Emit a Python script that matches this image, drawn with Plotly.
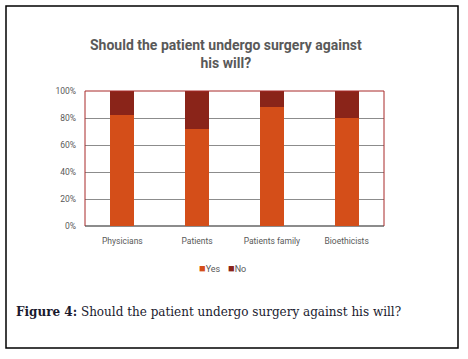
import plotly.graph_objects as go

categories = ["Physicians", "Patients", "Patients family", "Bioethicists"]
yes_vals = [82, 72, 88, 80]
no_vals = [18, 28, 12, 20]
y_ticks = [0, 20, 40, 60, 80, 100]
y_tick_labels = ["0%", "20%", "40%", "60%", "80%", "100%"]
series_names = ["Yes", "No"]
series_colors = ["#D44E19", "#8A2419"]

W, H = 468, 359
L, R, T, B = 85, 84, 91, 133
pw, ph = W - L - R, H - T - B

def px(x):
    return (x - L) / pw

def py(y):
    return (H - B - y) / ph

fig = go.Figure()
for name, vals, col in zip(series_names, [yes_vals, no_vals], series_colors):
    fig.add_trace(go.Bar(x=categories, y=vals, name=name, marker_color=col,
                         width=0.32, marker_line_width=0))

font_fam = "Roboto, sans-serif"
tick_font = dict(family=font_fam, size=8.5, color="#595959")

fig.update_layout(
    barmode="stack",
    width=W, height=H,
    margin=dict(l=L, r=R, t=T, b=B),
    paper_bgcolor="white", plot_bgcolor="white",
    showlegend=False,
    xaxis=dict(showgrid=False, showline=False, ticks="", tickfont=tick_font, ticklabelstandoff=8),
    yaxis=dict(range=[0, 100], tickvals=y_ticks, ticktext=y_tick_labels, tickfont=tick_font,
               showgrid=True, gridcolor="#8C8C8C", gridwidth=1, zeroline=True,
               zerolinecolor="#8C8C8C", showline=False, ticks="", ticklabelstandoff=8),
)

# title
fig.add_annotation(text="<b>Should the patient undergo surgery against<br>his will?</b>",
                   xref="paper", yref="paper", x=px(226), y=py(54), xanchor="center", yanchor="middle",
                   showarrow=False, align="center",
                   font=dict(family=font_fam, size=14, color="#595959"))

# legend (compact, Excel-like) - one entry per series
legend_x = [197, 226]
for n, c, lx in zip(series_names, series_colors, legend_x):
    fig.add_annotation(text=f'<span style="color:{c};font-size:11px">■</span>{n}',
                       xref="paper", yref="paper", x=px(lx), y=py(268),
                       xanchor="left", yanchor="middle", showarrow=False,
                       font=dict(family=font_fam, size=9, color="#595959"))

# caption
fig.add_annotation(text="<b>Figure 4:</b> Should the patient undergo surgery against his will?",
                   xref="paper", yref="paper", x=px(14), y=py(312), xanchor="left", yanchor="middle",
                   showarrow=False, align="left",
                   font=dict(family="DejaVu Serif, serif", size=12, color="#1a1a2e"))

# plot frame (dark red) on top/left/right
fig.add_shape(type="path", xref="paper", yref="paper",
              path="M 0 0 L 0 1 L 1 1 L 1 0", line=dict(color="#A82828", width=1))

# outer border
fig.add_shape(type="rect", xref="paper", yref="paper",
              x0=px(6), x1=px(458), y0=py(348), y1=py(6), line=dict(color="black", width=1.5),
              layer="above")

fig.write_html("out.html", config={"displayModeBar": False},
               post_script="document.body.style.margin='0';")
